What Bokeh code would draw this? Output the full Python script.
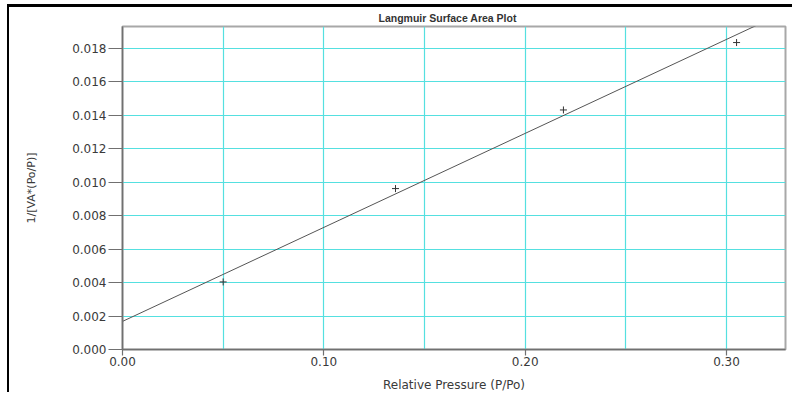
from bokeh.plotting import figure
from bokeh.models import FixedTicker, NumeralTickFormatter, Range1d
from bokeh.embed import file_html
from bokeh.resources import INLINE

# data
rel_pressure = [0.050, 0.1356, 0.219, 0.305]
inv_quantity = [0.00404, 0.00962, 0.01432, 0.01835]
fit_intercept = 0.00168
fit_slope = 0.0562
x_max = 0.3293
y_max = 0.01931
fit_x = [0.0, x_max]
fit_y = [fit_intercept + fit_slope * x for x in fit_x]

x_ticks = [0.0, 0.1, 0.2, 0.3]
x_grid = [0.05, 0.10, 0.15, 0.20, 0.25, 0.30]
y_ticks = [0.000, 0.002, 0.004, 0.006, 0.008, 0.010, 0.012, 0.014, 0.016, 0.018]

FONT = "Liberation Sans"
TICK_FONT = "DejaVu Sans"

p = figure(width=785, height=388, output_backend="svg", toolbar_location=None,
           x_range=Range1d(0, x_max), y_range=Range1d(0, y_max),
           title="Langmuir Surface Area Plot",
           min_border_left=113, min_border_right=9, min_border_top=17, min_border_bottom=46)

p.margin = (4, 0, 0, 7)
p.styles = {"border-left": "2px solid black", "border-top": "3px solid black"}

p.title.align = "left"
p.title.text_font = FONT
p.title.text_font_size = "10.5px"
p.title.text_font_style = "bold"
p.title.text_color = "#333333"
p.title.offset = 256
p.title.standoff = 5

p.outline_line_color = "#a8a8a8"
p.outline_line_width = 2
p.background_fill_color = "white"
p.border_fill_color = "white"

# grids
p.xgrid.ticker = FixedTicker(ticks=x_grid)
p.ygrid.ticker = FixedTicker(ticks=y_ticks)
for g in (p.xgrid, p.ygrid):
    g.grid_line_color = "#55e0e0"
    g.grid_line_width = 1.2

# axes
for ax in (p.xaxis, p.yaxis):
    ax.axis_line_color = "#707070"
    ax.axis_line_width = 1.5
    ax.major_tick_line_color = "#707070"
    ax.major_tick_line_width = 1.2
    ax.minor_tick_line_color = None
    ax.major_tick_in = 0
    ax.major_label_text_font = TICK_FONT
    ax.major_label_text_font_size = "12px"
    ax.major_label_text_color = "#3a3a3a"
    ax.axis_label_text_font = TICK_FONT
    ax.axis_label_text_font_size = "12px"
    ax.axis_label_text_font_style = "normal"
    ax.axis_label_text_color = "#3a3a3a"

p.xaxis.ticker = FixedTicker(ticks=x_ticks)
p.xaxis.formatter = NumeralTickFormatter(format="0.00")
p.xaxis.major_tick_out = 6
p.xaxis.major_label_standoff = 1
p.xaxis.axis_label = "Relative Pressure (P/Po)"
p.xaxis.axis_label_standoff = 9

p.yaxis.ticker = FixedTicker(ticks=y_ticks)
p.yaxis.formatter = NumeralTickFormatter(format="0.000")
p.yaxis.major_tick_out = 14
p.yaxis.major_label_standoff = 2
p.yaxis.axis_label = "1/[VA*(Po/P)]"
p.yaxis.axis_label_text_font_size = "11px"
p.yaxis.axis_label_standoff = 31

p.line(fit_x, fit_y, line_color="#555555", line_width=1)
p.scatter(rel_pressure, inv_quantity, marker="cross", size=7, line_color="#333333", line_width=1)

open("out.html", "w").write(file_html(p, INLINE))
